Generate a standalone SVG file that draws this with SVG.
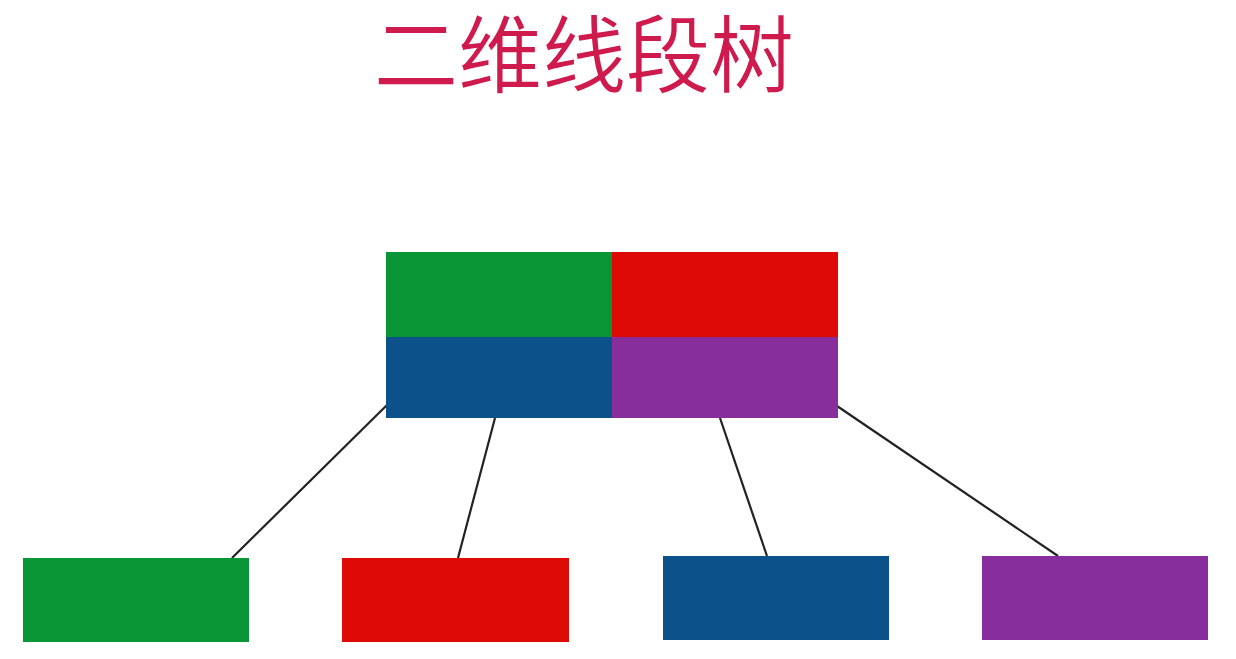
<svg xmlns="http://www.w3.org/2000/svg" width="1236" height="659" viewBox="0 0 1236 659">
<style>
.g{fill:#079535}.r{fill:#dd0a06}.b{fill:#0c5189}.p{fill:#872d9c}
.e{stroke:#222;stroke-width:2.2;fill:none}
.t{font-family:"Noto Sans CJK SC","Noto Sans",sans-serif;font-size:84px;font-weight:350;fill:#cf1a4e;text-anchor:middle}
</style>
<rect width="1236" height="659" fill="#fff"/>
<text class="t" x="584" y="86">二维线段树</text>
<g id="connectors">
<line class="e" x1="387" y1="405" x2="232" y2="558"/>
<line class="e" x1="495" y1="418" x2="458" y2="558"/>
<line class="e" x1="720" y1="418" x2="767" y2="556"/>
<line class="e" x1="837" y1="406" x2="1058" y2="556"/>
</g>
<g id="root">
<rect class="g" x="386" y="252" width="226" height="85"/>
<rect class="r" x="612" y="252" width="226" height="85"/>
<rect class="b" x="386" y="337" width="226" height="81"/>
<rect class="p" x="612" y="337" width="226" height="81"/>
</g>
<g id="child-green"><rect class="g" x="23" y="558" width="226" height="84"/></g>
<g id="child-red"><rect class="r" x="342" y="558" width="227" height="84"/></g>
<g id="child-blue"><rect class="b" x="663" y="556" width="226" height="84"/></g>
<g id="child-purple"><rect class="p" x="982" y="556" width="226" height="84"/></g>
</svg>
